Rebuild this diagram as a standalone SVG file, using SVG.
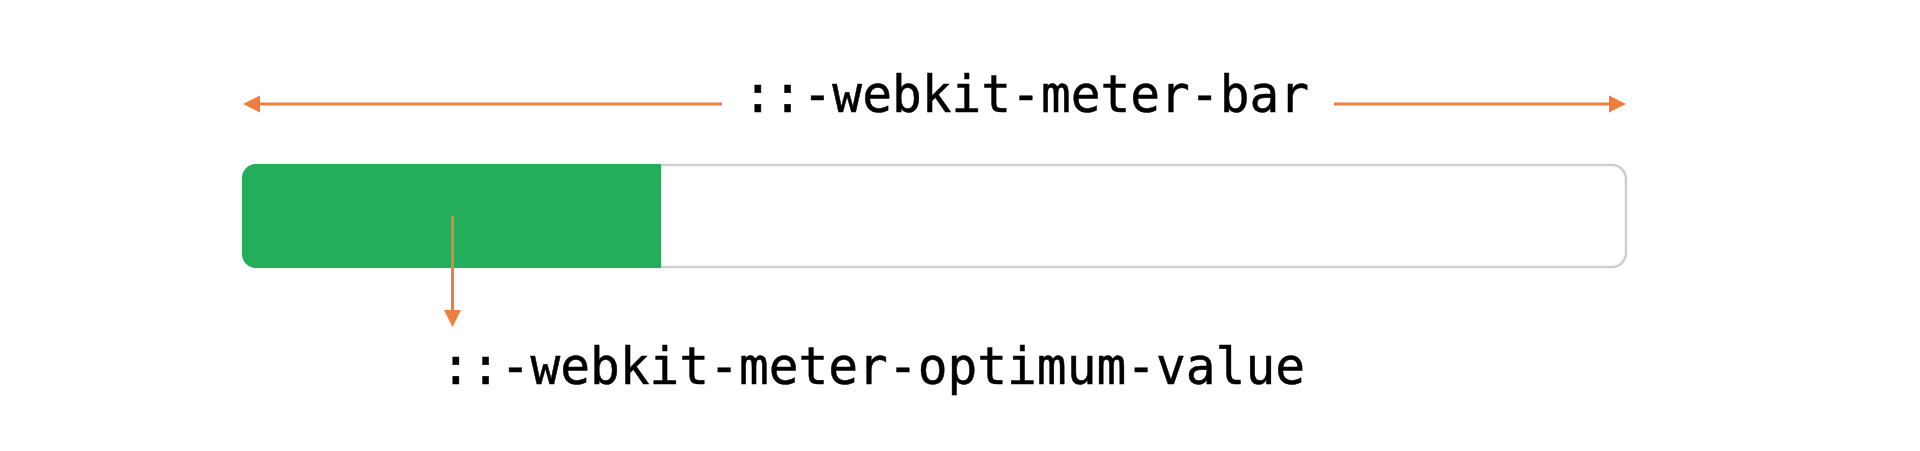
<svg xmlns="http://www.w3.org/2000/svg" width="1920" height="451" viewBox="0 0 1920 451">
<style>
.lbl{font-family:"DejaVu Sans Mono","Liberation Mono",monospace;font-size:52px;fill:#000;stroke:#000;stroke-width:0.5;}
.arr{stroke:#EE7D3E;stroke-width:3;fill:none;}
.head{fill:#EE7D3E;}
</style>
<rect width="1920" height="451" fill="#fff"/>
<g id="meter-bar">
<rect x="243.5" y="165" width="1382.5" height="102" rx="14" fill="#fff" stroke="#cfcfcf" stroke-width="2.5"/>
</g>
<g id="optimum-value">
<path d="M256,164 H661 V268 H256 A14,14 0 0 1 242,254 V178 A14,14 0 0 1 256,164 Z" fill="#24AD5B"/>
</g>
<g id="label-bar">
<text class="lbl" x="743" y="112" textLength="566" lengthAdjust="spacingAndGlyphs">::-webkit-meter-bar</text>
</g>
<g id="label-optimum">
<text class="lbl" x="441" y="384" textLength="864" lengthAdjust="spacingAndGlyphs">::-webkit-meter-optimum-value</text>
</g>
<g id="connectors">
<line class="arr" x1="259" y1="104" x2="722" y2="104"/>
<polygon class="head" points="243,104 260,95.5 260,112.5"/>
<line class="arr" x1="1334" y1="104" x2="1611" y2="104"/>
<polygon class="head" points="1626,104 1609,95.5 1609,112.5"/>
<line class="arr" x1="452.5" y1="215.5" x2="452.5" y2="311"/>
<polygon class="head" points="452.5,327 444,310 461,310"/>
</g>
</svg>
